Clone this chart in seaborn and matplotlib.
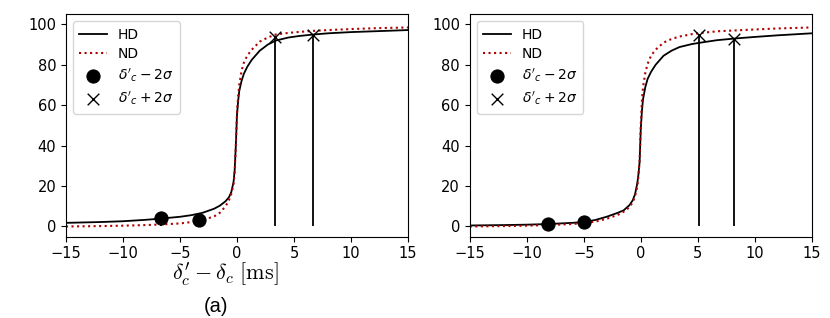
"""
Recreation of the HD / ND cumulative curves, two panels.
"""

import pandas as pd
import seaborn as sns
import matplotlib.pyplot as plt

# left panel (a)
a_x = [-15, -12, -10, -8, -6.7, -5, -4, -3, -2, -1.5, -1, -0.7, -0.5, -0.3, -0.2, -0.1,
       0, 0.1, 0.2, 0.4, 0.6, 0.9, 1.3, 2, 2.7, 3.4, 4.5, 5.5, 6.7, 8, 10, 12, 15]
a_hd = [1.8, 2.2, 2.6, 3.3, 3.9, 4.8, 5.6, 6.8, 8.8, 10.3, 12.5, 14.5, 17, 22, 28, 40,
        55, 62, 67, 72, 75.5, 79, 82.5, 87, 90, 92, 93.5, 94.3, 95, 95.6, 96.2, 96.6, 97.2]
a_nd = [0, 0.2, 0.4, 0.7, 1, 1.5, 2.2, 3.2, 5, 6.8, 10, 13, 16, 21, 27, 40,
        56, 64, 70, 77, 81, 84.5, 87.5, 91.5, 93.5, 95, 95.8, 96.3, 96.8, 97.2, 97.7, 98.1, 98.5]
a_minus_x = [-6.7, -3.35]
a_minus_y = [4.2, 3.1]
a_plus_x = [3.35, 6.7]
a_plus_y = [94, 95]

# right panel
b_x = [-15, -12, -10, -8.2, -6, -5, -4, -3, -2, -1.5, -1, -0.7, -0.5, -0.3, -0.2, -0.1,
       0, 0.1, 0.2, 0.4, 0.6, 0.9, 1.3, 2, 2.7, 3.4, 4.5, 5.5, 6.7, 8.2, 10, 12, 15]
b_hd = [0.5, 0.7, 0.9, 1.2, 1.8, 2.2, 3.2, 4.8, 6.8, 8, 10.5, 13, 16, 21.5, 26, 32,
        48, 57, 63, 69, 73, 76.5, 80, 84.5, 87, 88.8, 90.3, 91.2, 92.2, 93, 93.8, 94.6, 95.6]
b_nd = [0, 0.2, 0.4, 0.7, 1.2, 1.7, 2.4, 3.8, 5.8, 7.3, 9.5, 12, 15, 20, 25, 33,
        50, 62, 69, 76, 80.5, 84.5, 87.5, 91, 92.8, 94, 95.2, 95.9, 96.6, 97, 97.5, 98, 98.5]
b_minus_x = [-8.15, -5.0]
b_minus_y = [1.2, 2]
b_plus_x = [5.1, 8.2]
b_plus_y = [95, 93]

xticks = [-15, -10, -5, 0, 5, 10, 15]
yticks = [0, 20, 40, 60, 80, 100]

plt.rcParams["font.family"] = ["DejaVu Sans"]
plt.rcParams["font.size"] = 10


def draw_panel(ax, x, hd, nd, mx, my, px, py):
    df = pd.DataFrame({"x": x, "HD": hd, "ND": nd})
    sns.lineplot(data=df, x="x", y="HD", ax=ax, color="black", lw=1.3, label="HD")
    sns.lineplot(data=df, x="x", y="ND", ax=ax, color="#b00000", lw=1.5,
                 linestyle=":", label="ND")
    ax.vlines(mx, 0, my, color="black", lw=1.3)
    ax.vlines(px, 0, py, color="black", lw=1.3)
    sns.scatterplot(x=mx, y=my, ax=ax, color="black", s=90, marker="o",
                    edgecolor="black", label=r"$\delta'_c - 2\sigma$", zorder=5)
    sns.scatterplot(x=px, y=py, ax=ax, color="black", s=70, marker="x",
                    linewidth=1.0, label=r"$\delta'_c + 2\sigma$", zorder=5)
    ax.set_xlim(-15, 15)
    ax.set_ylim(-5, 105)
    ax.set_xticks(xticks)
    ax.set_yticks(yticks)
    ax.set_ylabel("")
    ax.set_xlabel("")
    ax.tick_params(labelsize=10.5)
    ax.legend(loc="upper left", fontsize=10, framealpha=0.8, handlelength=2.0,
              borderpad=0.45, labelspacing=0.4, handletextpad=0.8)


fig = plt.figure(figsize=(8.3, 3.18), dpi=100)
ax1 = fig.add_axes([0.0795, 0.256, 0.412, 0.699])
ax2 = fig.add_axes([0.566, 0.256, 0.412, 0.699])

draw_panel(ax1, a_x, a_hd, a_nd, a_minus_x, a_minus_y, a_plus_x, a_plus_y)
draw_panel(ax2, b_x, b_hd, b_nd, b_minus_x, b_minus_y, b_plus_x, b_plus_y)

ax1.set_xlabel(r"$\delta^{\prime}_{c} - \delta_c\ [\mathrm{ms}]$", fontsize=16,
               math_fontfamily="cm")
ax1.xaxis.set_label_coords(0.465, -0.11)
fig.text(216 / 830, 1 - 306 / 318, "(a)", ha="center", va="center", fontsize=14.5,
         family=["Liberation Sans", "DejaVu Sans"])

fig.savefig("out.png", dpi=100)
